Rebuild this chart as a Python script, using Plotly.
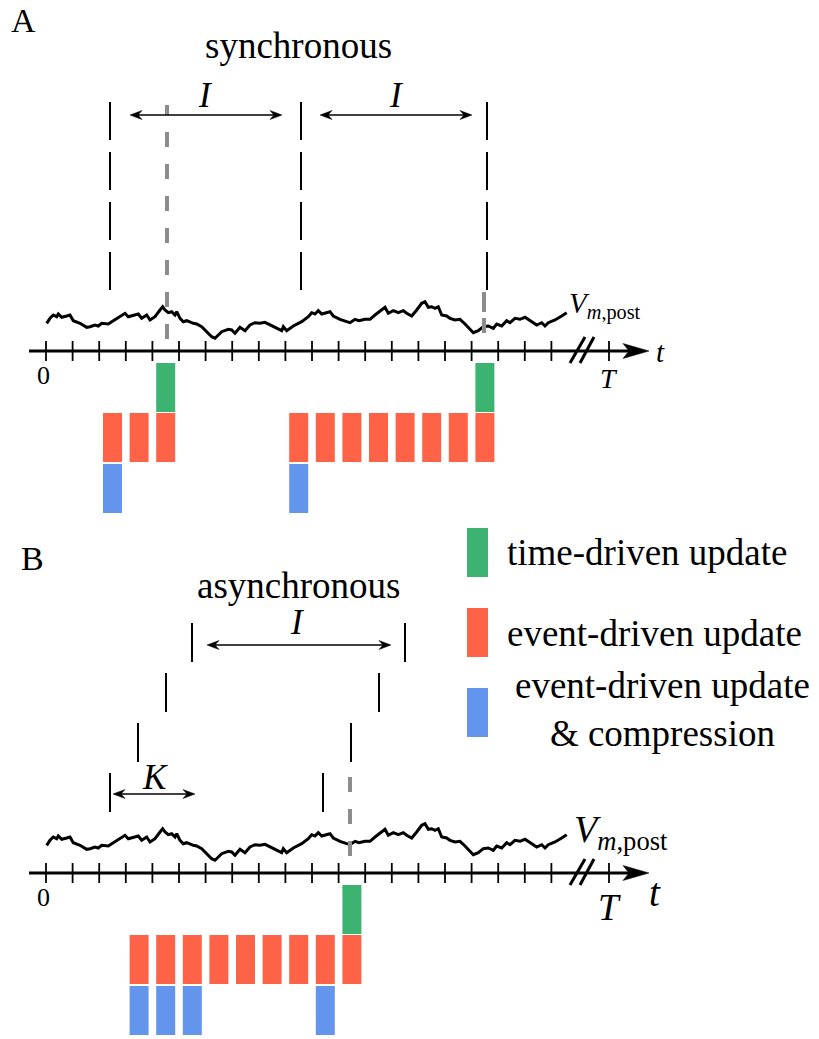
import plotly.graph_objects as go

# ---------------- data (time in a.u., one tick = TICK units; potential in a.u.) ----------------
TICK = 26.6
N_TICKS = 20
T_MARK = 563          # position of the final time T (after the axis break)

trace_t = [0.7, 4, 7.3, 10.7, 12.3, 15.7, 20.7, 24, 27.3, 34, 40.7, 44, 49, 52.3, 55.7, 62.3,
           67.3, 74, 79, 82.3, 87.3, 92.3, 95.7, 100.7, 104, 109, 114, 116.7, 119, 122.3, 125.7,
           129, 130.7, 134, 137.3, 140.7, 147.3, 150.7, 155.7, 160.7, 165.7, 169, 175.7, 182.3,
           185.7, 189, 194, 199, 204, 209, 214, 219, 224, 230.7, 235.7, 237.3, 240.7, 247.3,
           255.7, 262.3, 265.7, 269, 272.3, 275.7, 280.7, 284, 287.3, 294, 300.7, 304, 309, 313,
           319, 324, 329, 335.7, 339, 342.3, 347.3, 352.3, 357.3, 360.7, 365.7, 370.7, 375.7,
           379, 382.3, 385.7, 389, 392.3, 395.7, 400.7, 404, 409, 414, 419, 424, 427.3, 432.3,
           437.3, 442.3, 447.3, 450.7, 455.7, 460.7, 464, 469, 474, 479, 485.7, 490.7, 495.7,
           499, 502.3, 509, 515.7, 520.7]
trace_v = [27.7, 32.7, 36, 34.3, 37, 33.7, 35, 36, 30.3, 27.7, 23.7, 24.3, 26, 25, 27.7, 27,
           30.3, 34.3, 37.7, 34.3, 36, 37, 32.7, 36, 31, 34.3, 41, 44.3, 41, 38.3, 39.3,
           36, 39.3, 32.7, 29.3, 30.3, 27.7, 27, 24.3, 19.3, 14.3, 12.7, 19.3, 21.7,
           21, 17.7, 23.7, 20.3, 26, 28.3, 27.7, 28.7, 26, 22.7, 20.3, 24.3, 20.3, 25,
           29.3, 34.3, 38.3, 37, 40.3, 37, 38.3, 39.3, 35, 31.7, 29.3, 28.3, 31.7, 30.3,
           31.7, 31.7, 36, 41, 43.7, 37.7, 40.3, 38.3, 40.3, 37.7, 35, 41, 47.7,
           49.3, 43.7, 44.3, 42.7, 44.3, 36, 35, 32.7, 31, 31.7, 27, 21.7, 18.3, 20.3,
           24.3, 25, 22.7, 27, 25, 30.3, 28.3, 32.7, 31.7, 33.7, 29.3, 26, 28.3,
           25, 28.3, 31, 35, 38.3]

# panel A (synchronous)
A_sync_times = [64, 255, 441]          # synchronous update boundaries
A_update_times = [121, 438]            # time-driven update instants
A_red_slots = [2, 3, 4, 9, 10, 11, 12, 13, 14, 15, 16]
A_green_slots = [4, 16]
A_blue_slots = [2, 9]

# panel B (asynchronous)
B_left_times = [64, 92, 120, 146]
B_right_times = [277, 305, 333, 359]
B_update_time = 304
B_red_slots = [3, 4, 5, 6, 7, 8, 9, 10, 11]
B_green_slots = [11]
B_blue_slots = [3, 4, 5, 10]

LEGEND_LABELS = ["time-driven update", "event-driven update",
                 "event-driven update<br>& compression"]

# ---------------- styling ----------------
FONT = "Liberation Serif"
GREEN, RED, BLUE = "#3CB371", "#FF6347", "#6495ED"
GRAY = "#8c8c8c"
BAR_W, BAR_H = 19, 49
ROW_TOP = {"green": -12, "red": -62, "blue": -113}

fig = go.Figure()
shapes = []
annotations = []
PANELS = {"A": ("x", "y"), "B": ("x2", "y2")}


def seg(p, x0, y0, x1, y1, color="black", width=2, dash=None):
    xr, yr = PANELS[p]
    ln = dict(color=color, width=width)
    if dash:
        ln["dash"] = dash
    shapes.append(dict(type="line", xref=xr, yref=yr, x0=x0, y0=y0, x1=x1, y1=y1, line=ln))


def head(p, tx, ty, d, L=12, W=4.5, notch=4, color="black"):
    xr, yr = PANELS[p]
    bx = tx - d * L
    nx = tx - d * (L - notch)
    path = f"M {tx},{ty} L {bx},{ty + W} L {nx},{ty} L {bx},{ty - W} Z"
    shapes.append(dict(type="path", xref=xr, yref=yr, path=path,
                       fillcolor=color, line=dict(color=color, width=0.5)))


def darrow(p, x0, x1, y):
    seg(p, x0 + 6, y, x1 - 6, y, width=1.4)
    head(p, x0, y, -1)
    head(p, x1, y, +1)


def text(p, x, y, t, size, xanchor="center", align="center"):
    xr, yr = PANELS[p]
    annotations.append(dict(x=x, y=y, xref=xr, yref=yr, text=t, showarrow=False,
                            xanchor=xanchor, yanchor="middle", align=align,
                            font=dict(family=FONT, size=size, color="black")))


def bars(p, slots, row, color):
    xr, yr = PANELS[p]
    fig.add_trace(go.Bar(x=[(k + 0.5) * TICK for k in slots], y=[BAR_H] * len(slots),
                         base=[ROW_TOP[row] - BAR_H] * len(slots), width=BAR_W,
                         marker=dict(color=color, line=dict(width=0)),
                         xaxis=xr, yaxis=yr, showlegend=False, hoverinfo="skip"))


def time_axis(p):
    seg(p, -17, 0, 585, 0, width=3)
    head(p, 603, 0, +1, L=26, W=7.5, notch=6)
    for k in range(N_TICKS):
        seg(p, k * TICK, -10, k * TICK, 10, width=1.8)
    seg(p, T_MARK, -10, T_MARK, 10, width=1.8)
    seg(p, 524, -12, 539, 14, width=3)
    seg(p, 534, -12, 548, 14, width=3)


# ---------------- panel A ----------------
xr, yr = PANELS["A"]
fig.add_trace(go.Scatter(x=trace_t, y=trace_v, mode="lines", line=dict(color="black", width=3),
                         xaxis=xr, yaxis=yr, showlegend=False, hoverinfo="skip"))
time_axis("A")
for tt in A_sync_times:
    seg("A", tt, 249, tt, 61, width=2, dash="38px,12px")
seg("A", A_update_times[0], 12, A_update_times[0], 246, color=GRAY, width=4, dash="15px,17px")
seg("A", A_update_times[1], 18, A_update_times[1], 59, color=GRAY, width=4, dash="15px,6px,20px,100px")
darrow("A", A_sync_times[0] + 20, A_sync_times[1] - 19, 236)
darrow("A", A_sync_times[1] + 19, A_sync_times[2] - 15, 236)
bars("A", A_red_slots, "red", RED)
bars("A", A_green_slots, "green", GREEN)
bars("A", A_blue_slots, "blue", BLUE)
text("A", -23, 331, "A", 34)
text("A", 252, 306, "synchronous", 37)
text("A", 159, 256, "<i>I</i>", 35)
text("A", 350, 256, "<i>I</i>", 35)
text("A", -3, -24, "0", 26)
text("A", T_MARK, -27, "<i>T</i>", 28)
text("A", 614, -1, "<i>t</i>", 29)
text("A", 521, 46, "<i>V</i><sub><i>m</i>,post</sub>", 29, xanchor="left")

# ---------------- panel B ----------------
xr, yr = PANELS["B"]
fig.add_trace(go.Scatter(x=trace_t, y=trace_v, mode="lines", line=dict(color="black", width=3),
                         xaxis=xr, yaxis=yr, showlegend=False, hoverinfo="skip"))
time_axis("B")
for i, (tl, tr) in enumerate(zip(B_left_times, B_right_times)):
    lo = 61 + 50 * i
    seg("B", tl, lo, tl, lo + 39, width=2)
    seg("B", tr, lo, tr, lo + 39, width=2)
seg("B", B_update_time, 17, B_update_time, 98, color=GRAY, width=4, dash="15px,17px")
darrow("B", B_left_times[-1] + 15, B_right_times[-1] - 14, 228)
darrow("B", B_left_times[0] + 3, B_left_times[0] + 85, 79)
bars("B", B_red_slots, "red", RED)
bars("B", B_green_slots, "green", GREEN)
bars("B", B_blue_slots, "blue", BLUE)
text("B", -14, 315, "B", 34)
text("B", 252, 288, "asynchronous", 37)
text("B", 251, 251, "<i>I</i>", 35)
text("B", 109, 96, "<i>K</i>", 35)
text("B", -3, -24, "0", 26)
text("B", T_MARK, -34, "<i>T</i>", 37)
text("B", 609, -19, "<i>t</i>", 39)
text("B", 526, 41, "<i>V</i><sub><i>m</i>,post</sub>", 38, xanchor="left")

# legend (inside panel B area)
for (lo, hi), col, lab, ty in zip([(296, 345), (216, 265), (136, 185)], [GREEN, RED, BLUE],
                                  LEGEND_LABELS, [321, 240, 164]):
    shapes.append(dict(type="rect", xref="x2", yref="y2", x0=421, x1=442, y0=lo, y1=hi,
                       fillcolor=col, line=dict(width=0)))
    if "<br>" in lab:
        text("B", 616, ty, lab, 37)
    else:
        text("B", 459, ty, lab, 37, xanchor="left")

ax = dict(visible=False, showgrid=False, zeroline=False, fixedrange=True)
fig.update_layout(
    width=819, height=1039, margin=dict(l=0, r=0, t=0, b=0),
    paper_bgcolor="white", plot_bgcolor="white", barmode="overlay", showlegend=False,
    xaxis=dict(ax, domain=[0, 1], range=[-46, 773], anchor="y"),
    yaxis=dict(ax, domain=[1 - 520 / 1039, 1], range=[-169, 351], anchor="x"),
    xaxis2=dict(ax, domain=[0, 1], range=[-46, 773], anchor="y2"),
    yaxis2=dict(ax, domain=[0, 1 - 520 / 1039], range=[-166, 353], anchor="x2"),
    shapes=shapes, annotations=annotations,
)
fig.write_html("out.html", config={"displayModeBar": False},
               post_script="document.body.style.margin='0';document.body.style.overflow='hidden';")
